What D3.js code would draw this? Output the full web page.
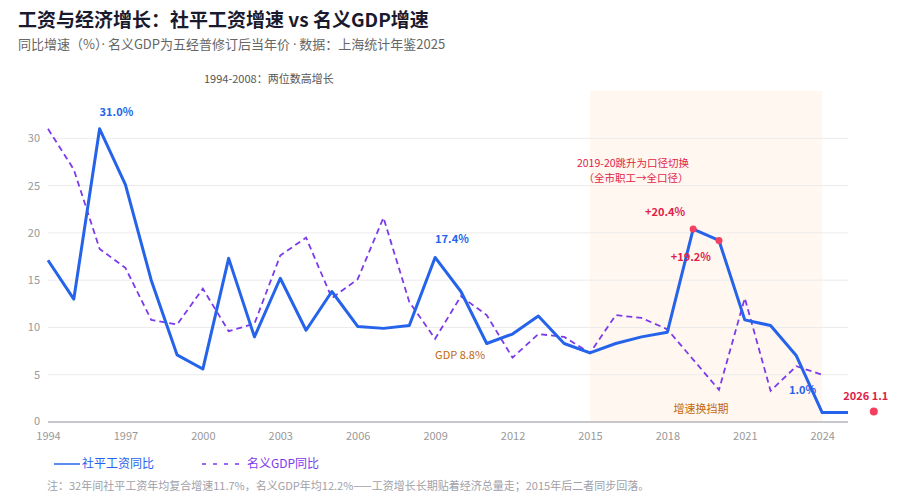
<!DOCTYPE html>
<html>
<head>
<meta charset="utf-8">
<script src="https://cdn.jsdelivr.net/npm/d3@7"></script>
<style>
    body { margin: 0; background: #fff; }
    svg { font-family: "Noto Sans CJK SC", "Noto Sans", sans-serif; display: block; }
</style>
</head>
<body>
<div id="chart"></div>
<script>
// ============================================================
// DATA — Shanghai avg wage growth vs nominal GDP growth (%)
// ============================================================

const years = [1994, 1995, 1996, 1997, 1998, 1999, 2000, 2001, 2002, 2003, 2004,
    2005, 2006, 2007, 2008, 2009, 2010, 2011, 2012, 2013, 2014, 2015, 2016,
    2017, 2018, 2019, 2020, 2021, 2022, 2023, 2024, 2025];

const wageGrowth = [17.1, 13.0, 31.0, 25.1, 15.0, 7.1, 5.6, 17.3, 9.0, 15.2, 9.7,
    13.8, 10.1, 9.9, 10.2, 17.4, 13.8, 8.3, 9.3, 11.2, 8.3, 7.3, 8.3,
    9.0, 9.5, 20.4, 19.2, 10.8, 10.2, 7.0, 1.0, 1.0];

// GDP series stops at 2024
const gdpGrowth = [31.0, 26.7, 18.3, 16.3, 10.8, 10.3, 14.1, 9.6, 10.4, 17.6, 19.5,
    13.1, 15.1, 21.6, 12.7, 8.8, 13.3, 11.3, 6.8, 9.3, 9.0, 7.3, 11.3,
    11.0, 9.8, 6.6, 3.4, 13.1, 3.3, 5.9, 5.0];

const forecastYear = 2026;
const forecastValue = 1.1;

const xTicks = [1994, 1997, 2000, 2003, 2006, 2009, 2012, 2015, 2018, 2021, 2024];
const yTicks = [0, 5, 10, 15, 20, 25, 30];

const shadeYears = [2015, 2024];

// Colors
const BLUE = '#2563eb';
const PURPLE = '#7c3aed';
const RED = '#e11d48';
const DOT = '#f43f5e';
const AMBER = '#c2680c';

// ============================================================
// CHART
// ============================================================

const width = 901, height = 502;

const svg = d3.select('#chart')
    .append('svg')
    .attr('width', width)
    .attr('height', height);

const x = d3.scaleLinear().domain([1994, 2025]).range([48, 848]);
const y = d3.scaleLinear().domain([0, 35]).range([422, 91]);

// Title + subtitle
svg.append('text')
    .attr('x', 18).attr('y', 27)
    .attr('font-size', 19).attr('font-weight', 700)
    .attr('fill', '#1a1a2e')
    .text('工资与经济增长：社平工资增速 vs 名义GDP增速');

// subtitle pieces: the middle dots use a latin font so they stay narrow
const subParts = ['同比增速（%）', '·', ' 名义GDP为五经普修订后当年价 ', '·', ' 数据：上海统计年鉴2025'];
const sub = svg.append('text')
    .attr('x', 18).attr('y', 49)
    .attr('font-size', 13)
    .attr('fill', '#666');
sub.selectAll('tspan')
    .data(subParts)
    .join('tspan')
    .attr('font-family', d => d === '·' ? '"Noto Sans", sans-serif' : null)
    .style('white-space', 'pre')
    .text(d => d);

// Shaded period 2015-2024
svg.append('rect')
    .attr('x', x(shadeYears[0]))
    .attr('y', y(35))
    .attr('width', x(shadeYears[1]) - x(shadeYears[0]))
    .attr('height', y(0) - y(35))
    .attr('fill', '#fff7f0');

// Grid lines
svg.append('g')
    .selectAll('line')
    .data(yTicks.filter(d => d > 0))
    .join('line')
    .attr('x1', x(1994)).attr('x2', x(2025))
    .attr('y1', d => y(d)).attr('y2', d => y(d))
    .attr('stroke', '#ebebeb')
    .attr('stroke-width', 1);

// Baseline
svg.append('line')
    .attr('x1', x(1994)).attr('x2', x(2025))
    .attr('y1', y(0)).attr('y2', y(0))
    .attr('stroke', '#c8c8cc')
    .attr('stroke-width', 2);

// Y axis labels
const yAxis = svg.append('g')
    .attr('transform', 'translate(40,0)')
    .call(d3.axisLeft(y).tickValues(yTicks).tickSize(0).tickPadding(0));
yAxis.select('.domain').remove();
yAxis.selectAll('text')
    .attr('font-size', 11)
    .attr('font-family', '"Noto Sans CJK SC", sans-serif')
    .attr('fill', '#999')
    .attr('dy', d => d === 0 ? '0.22em' : '0.32em');   // keep "0" clear of the 1994 label

// X axis labels
const xAxis = svg.append('g')
    .attr('transform', `translate(0,${y(0)})`)
    .call(d3.axisBottom(x).tickValues(xTicks).tickFormat(d3.format('d')).tickSize(0).tickPadding(10));
xAxis.select('.domain').remove();
xAxis.selectAll('text')
    .attr('font-size', 11)
    .attr('font-family', '"Noto Sans CJK SC", sans-serif')
    .attr('fill', '#999');

// Lines
const seriesLine = d3.line()
    .x((d, i) => x(years[i]))
    .y(d => y(d));

svg.append('path')
    .datum(gdpGrowth)
    .attr('d', seriesLine)
    .attr('fill', 'none')
    .attr('stroke', PURPLE)
    .attr('stroke-width', 1.8)
    .attr('stroke-dasharray', '6,4');

svg.append('path')
    .datum(wageGrowth)
    .attr('d', seriesLine)
    .attr('fill', 'none')
    .attr('stroke', BLUE)
    .attr('stroke-width', 3)
    .attr('stroke-linejoin', 'round');

// Highlight dots (2019, 2020) + forecast
const idx2019 = years.indexOf(2019);
const idx2020 = years.indexOf(2020);

svg.append('g')
    .selectAll('circle')
    .data([idx2019, idx2020])
    .join('circle')
    .attr('cx', i => x(years[i]))
    .attr('cy', i => y(wageGrowth[i]))
    .attr('r', 3.5)
    .attr('fill', DOT);

svg.append('circle')
    .attr('cx', x(forecastYear))
    .attr('cy', y(forecastValue))
    .attr('r', 4)
    .attr('fill', DOT);

// ============================================================
// ANNOTATIONS
// ============================================================

function label(px, py, text, opts = {}) {
    return svg.append('text')
        .attr('x', px).attr('y', py)
        .attr('font-size', opts.size || 11)
        .attr('font-weight', opts.bold ? 700 : 400)
        .attr('fill', opts.color || '#555')
        .attr('text-anchor', opts.anchor || 'start')
        .text(text);
}

label(204, 83, '1994-2008：两位数高增长', { color: '#555' });

const i96 = years.indexOf(1996);
label(x(1996), y(wageGrowth[i96]) - 13, wageGrowth[i96].toFixed(1) + '%', { bold: true, color: BLUE });

const i09 = years.indexOf(2009);
label(x(2009), y(wageGrowth[i09]) - 14, wageGrowth[i09].toFixed(1) + '%', { bold: true, color: BLUE });
label(x(2009), y(gdpGrowth[i09]) + 20, 'GDP ' + gdpGrowth[i09].toFixed(1) + '%', { color: AMBER });

label(x(2019) - 8, y(wageGrowth[idx2019]) - 13, '+' + wageGrowth[idx2019].toFixed(1) + '%', { bold: true, color: RED, anchor: 'end' });
label(x(2020) - 8, y(wageGrowth[idx2020]) + 21, '+' + wageGrowth[idx2020].toFixed(1) + '%', { bold: true, color: RED, anchor: 'end' });

label(633, 167, '2019-20跳升为口径切换', { color: RED, anchor: 'middle', size: 10.5 });
label(636, 182, '（全市职工→全口径）', { color: RED, anchor: 'middle', size: 10.5 });

const i24 = years.indexOf(2024);
label(x(2024) - 6, y(wageGrowth[i24]) - 19, wageGrowth[i24].toFixed(1) + '%', { bold: true, color: BLUE, anchor: 'end' });

label(x(forecastYear) - 8, y(forecastValue) - 12, forecastYear + ' ' + forecastValue.toFixed(1), { bold: true, color: RED, anchor: 'middle' });

label((x(shadeYears[0]) + x(shadeYears[1])) / 2 - 5, 413, '增速换挡期', { color: AMBER, anchor: 'middle' });

// ============================================================
// LEGEND + FOOTNOTE
// ============================================================

const legend = svg.append('g').attr('transform', 'translate(0,464)');

legend.append('line')
    .attr('x1', 54).attr('x2', 80)
    .attr('stroke', BLUE).attr('stroke-width', 1.5);
legend.append('text')
    .attr('x', 82).attr('dy', '0.35em')
    .attr('font-size', 12).attr('fill', BLUE)
    .text('社平工资同比');

legend.append('line')
    .attr('x1', 202).attr('x2', 242)
    .attr('stroke', PURPLE).attr('stroke-width', 1.5)
    .attr('stroke-dasharray', '4,7');
legend.append('text')
    .attr('x', 247).attr('dy', '0.35em')
    .attr('font-size', 12).attr('fill', PURPLE)
    .text('名义GDP同比');

svg.append('text')
    .attr('x', 47).attr('y', 490)
    .attr('font-size', 11).attr('fill', '#a0a0a8')
    .text('注：32年间社平工资年均复合增速11.7%，名义GDP年均12.2%——工资增长长期贴着经济总量走；2015年后二者同步回落。');
</script>
</body>
</html>
